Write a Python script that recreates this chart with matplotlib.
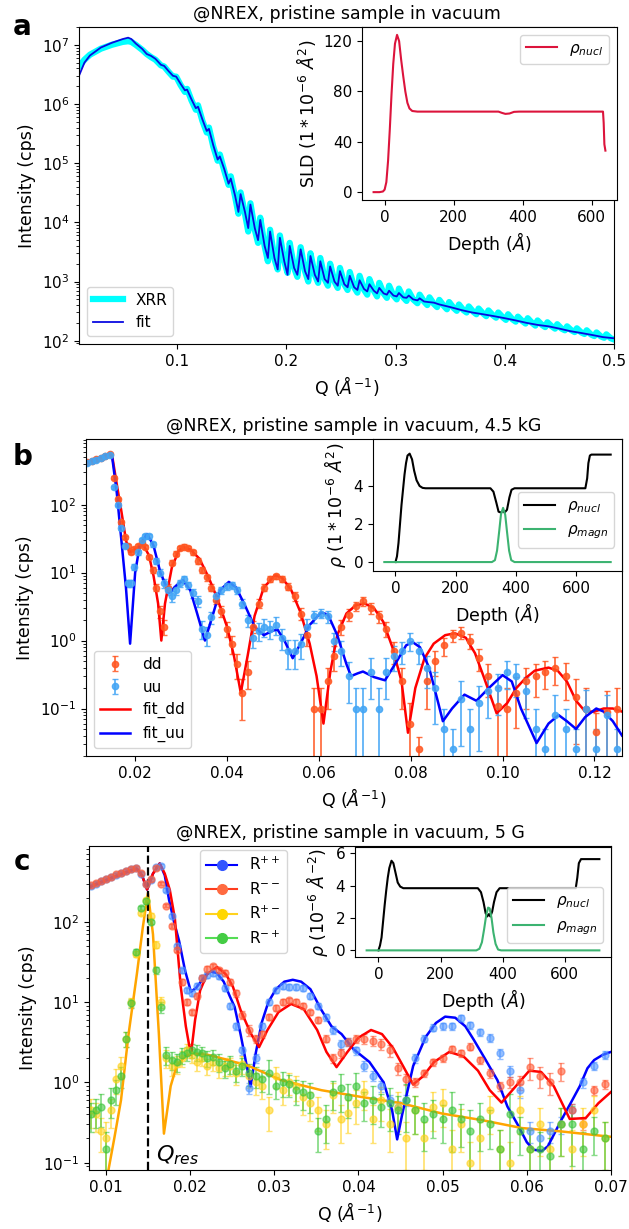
import numpy as np
import matplotlib.pyplot as plt
from matplotlib.lines import Line2D

# ---------------- panel a : XRR ----------------
q_xrr = [0.010, 0.015, 0.020, 0.030, 0.040, 0.050, 0.055, 0.058, 0.062, 0.068,
         0.072, 0.076, 0.080, 0.085, 0.088, 0.092, 0.096, 0.099, 0.103, 0.107,
         0.109, 0.113, 0.117, 0.119, 0.123, 0.127, 0.129, 0.133, 0.137, 0.139,
         0.143, 0.147, 0.149, 0.153, 0.156, 0.158, 0.162, 0.165, 0.167, 0.171,
         0.174, 0.176, 0.180, 0.183, 0.185, 0.189, 0.192, 0.194, 0.198, 0.201,
         0.203, 0.207, 0.210, 0.213, 0.217, 0.220, 0.222, 0.226, 0.229, 0.231,
         0.235, 0.238, 0.240, 0.244, 0.247, 0.249, 0.253, 0.256, 0.258, 0.262,
         0.265, 0.267, 0.271, 0.274, 0.276, 0.280, 0.283, 0.285, 0.289, 0.292,
         0.294, 0.298, 0.301, 0.303, 0.307, 0.310, 0.312, 0.316, 0.320, 0.322,
         0.326, 0.329, 0.331, 0.335, 0.338, 0.340, 0.344, 0.347, 0.349, 0.353,
         0.356, 0.358, 0.362, 0.365, 0.367, 0.371, 0.374, 0.376, 0.380, 0.383,
         0.385, 0.389, 0.392, 0.394, 0.398, 0.401, 0.403, 0.407, 0.410, 0.412,
         0.416, 0.419, 0.421, 0.425, 0.428, 0.430, 0.434, 0.437, 0.439, 0.443,
         0.446, 0.448, 0.452, 0.455, 0.457, 0.461, 0.464, 0.466, 0.470, 0.473,
         0.475, 0.479, 0.482, 0.484, 0.488, 0.491, 0.493, 0.497, 0.500]
i_xrr = [4.3e6, 5.6e6, 6.8e6, 8.6e6, 1.0e7, 1.12e7, 1.15e7, 1.12e7, 1.0e7, 8.2e6,
         7.0e6, 6.2e6, 5.6e6, 4.5e6, 4.3e6, 3.5e6, 2.9e6, 2.9e6, 2.1e6, 1.6e6,
         1.8e6, 1.15e6, 8.0e5, 9.5e5, 5.2e5, 3.3e5, 4.0e5, 1.9e5, 1.1e5, 1.4e5,
         7.5e4, 4.3e4, 6.0e4, 2.7e4, 1.4e4, 3.2e4, 1.4e4, 7.0e3, 2.1e4, 7.5e3,
         4.5e3, 1.2e4, 4.0e3, 2.2e3, 7.5e3, 2.4e3, 1.6e3, 6.0e3, 2.2e3, 1.4e3,
         4.5e3, 1.7e3, 1.2e3, 3.8e3, 1.5e3, 1.0e3, 3.0e3, 1.3e3, 9.5e2, 2.5e3,
         1.1e3, 8.5e2, 2.0e3, 1.0e3, 7.8e2, 1.7e3, 9.0e2, 7.2e2, 1.45e3, 8.0e2,
         6.5e2, 1.25e3, 7.3e2, 6.0e2, 1.1e3, 7.0e2, 5.6e2, 9.5e2, 6.3e2, 5.3e2,
         8.5e2, 5.8e2, 5.0e2, 7.6e2, 5.4e2, 4.7e2, 6.8e2, 5.0e2, 4.3e2, 6.0e2,
         4.6e2, 4.0e2, 5.4e2, 4.2e2, 3.7e2, 4.9e2, 3.9e2, 3.4e2, 4.5e2, 3.6e2,
         3.2e2, 4.1e2, 3.3e2, 3.0e2, 3.8e2, 3.1e2, 2.8e2, 3.5e2, 2.9e2, 2.6e2,
         3.25e2, 2.7e2, 2.45e2, 3.0e2, 2.5e2, 2.25e2, 2.8e2, 2.3e2, 2.1e2, 2.55e2,
         2.15e2, 1.95e2, 2.4e2, 2.0e2, 1.8e2, 2.2e2, 1.85e2, 1.7e2, 2.05e2, 1.75e2,
         1.6e2, 1.9e2, 1.6e2, 1.5e2, 1.75e2, 1.5e2, 1.4e2, 1.62e2, 1.38e2, 1.3e2,
         1.5e2, 1.27e2, 1.2e2, 1.38e2, 1.18e2, 1.12e2, 1.28e2, 1.1e2, 1.05e2]

q_xfit = [0.010, 0.015, 0.020, 0.030, 0.040, 0.050, 0.055, 0.058, 0.062, 0.068,
          0.072, 0.076, 0.080, 0.085, 0.088, 0.092, 0.096, 0.099, 0.103, 0.107,
          0.109, 0.113, 0.117, 0.119, 0.123, 0.127, 0.129, 0.133, 0.137, 0.139,
          0.143, 0.147, 0.149, 0.153, 0.156, 0.158, 0.162, 0.165, 0.167, 0.171,
          0.174, 0.176, 0.180, 0.183, 0.185, 0.189, 0.192, 0.194, 0.198, 0.201,
          0.203, 0.207, 0.210, 0.213, 0.217, 0.220, 0.222, 0.226, 0.229, 0.231,
          0.235, 0.238, 0.240, 0.244, 0.247, 0.249, 0.253, 0.256, 0.258, 0.262,
          0.265, 0.267, 0.271, 0.274, 0.276, 0.280, 0.283, 0.285, 0.289, 0.292,
          0.294, 0.298, 0.301, 0.303, 0.307, 0.310, 0.312, 0.316, 0.320, 0.322,
          0.326, 0.330, 0.335, 0.340, 0.345, 0.350, 0.355, 0.360, 0.370, 0.380,
          0.390, 0.400, 0.410, 0.420, 0.430, 0.440, 0.450, 0.460, 0.470, 0.480,
          0.490, 0.500]
i_xfit = [3.0e6, 5.0e6, 6.6e6, 9.0e6, 1.08e7, 1.25e7, 1.32e7, 1.25e7, 1.05e7, 8.5e6,
          7.0e6, 6.5e6, 5.8e6, 4.6e6, 4.4e6, 3.6e6, 3.0e6, 2.9e6, 2.2e6, 1.7e6,
          1.75e6, 1.2e6, 8.5e5, 9.0e5, 5.5e5, 3.5e5, 3.8e5, 2.0e5, 1.15e5, 1.3e5,
          8.0e4, 4.5e4, 5.5e4, 2.8e4, 1.5e4, 3.0e4, 1.5e4, 8.0e3, 2.0e4, 8.0e3,
          5.0e3, 1.1e4, 4.0e3, 2.5e3, 7.0e3, 2.5e3, 1.6e3, 5.5e3, 2.2e3, 1.3e3,
          4.0e3, 1.7e3, 1.3e3, 3.5e3, 1.5e3, 1.1e3, 2.7e3, 1.3e3, 1.0e3, 2.2e3,
          1.1e3, 9.5e2, 1.8e3, 1.0e3, 8.5e2, 1.5e3, 9.0e2, 8.0e2, 1.25e3, 8.0e2,
          7.2e2, 1.05e3, 7.5e2, 6.8e2, 9.0e2, 7.0e2, 6.3e2, 7.8e2, 6.3e2, 6.0e2,
          7.0e2, 5.8e2, 5.6e2, 6.4e2, 5.4e2, 5.3e2, 5.8e2, 5.0e2, 4.8e2, 5.2e2,
          4.6e2, 4.5e2, 4.4e2, 4.1e2, 3.9e2, 3.7e2, 3.5e2, 3.3e2, 3.0e2, 2.8e2,
          2.6e2, 2.4e2, 2.2e2, 2.0e2, 1.85e2, 1.75e2, 1.6e2, 1.45e2, 1.35e2, 1.25e2,
          1.15e2, 1.1e2]

depth_a = [-32, -15, -5, 0, 5, 10, 15, 20, 25, 30, 36, 42, 48, 54, 60, 66, 72, 80,
           95, 330, 340, 350, 362, 375, 390, 633, 635, 637, 640]
sld_a = [0, 0, 0.5, 2, 8, 25, 50, 78, 102, 118, 125, 120, 105, 92, 80, 71, 66.5, 64.5,
         64, 64, 63, 62.2, 62.5, 63.8, 64, 64, 55, 38, 33]

# ---------------- panel b : 4.5 kG ----------------
q_b = [0.0095, 0.0105, 0.0115, 0.0125, 0.0135, 0.0145,
       0.0155, 0.0163, 0.0170, 0.0177, 0.0184, 0.0191, 0.0198, 0.0206, 0.0214, 0.0222,
       0.0230, 0.0238, 0.0246, 0.0254, 0.0262, 0.0271, 0.0280, 0.0289, 0.0298, 0.0307,
       0.0316, 0.0326, 0.0336, 0.0346, 0.0356, 0.0366, 0.0377, 0.0388, 0.0399, 0.0410,
       0.0421, 0.0433, 0.0445, 0.0457, 0.0469, 0.0481, 0.0494, 0.0507, 0.0520, 0.0533,
       0.0547, 0.0561, 0.0575, 0.0589, 0.0604, 0.0619, 0.0634, 0.0649, 0.0665, 0.0681,
       0.0697, 0.0713, 0.0730, 0.0747, 0.0764, 0.0781, 0.0799, 0.0817, 0.0835, 0.0853,
       0.0872, 0.0891, 0.0910, 0.0929, 0.0949, 0.0969, 0.0989, 0.1009, 0.1030, 0.1051,
       0.1072, 0.1093, 0.1115, 0.1137, 0.1159, 0.1181, 0.1204, 0.1227, 0.1250]
dd = [420, 440, 465, 490, 520, 550,
      250, 120, 55, 33, 25, 20, 22, 25, 27, 24,
      17, 11, 6, 2.7, 1.6, 6, 14, 19, 23, 24,
      23, 20, 15, 11, 8.5, 6, 4, 2.7, 1.5, 0.9,
      0.45, 0.17, 0.35, 1.6, 3.5, 6, 8, 8.8, 8, 6.2,
      4.5, 2.5, 1.2, 0.1, 0.1, 0.25, 0.6, 1.6, 2.4, 3.2,
      3.8, 3.0, 2.3, 1.5, 0.7, 0.25, 0.06, 0.025, 0.25, 0.5,
      0.85, 1.2, 1.3, 1.0, 0.55, 0.3, 0.11, 0.1, 0.17, 0.25,
      0.3, 0.35, 0.4, 0.3, 0.15, 0.1, 0.045, 0.09, 0.1]
dd_rel = [0.04, 0.04, 0.04, 0.04, 0.04, 0.04,
          0.05, 0.05, 0.06, 0.06, 0.07, 0.07, 0.07, 0.07, 0.07, 0.07,
          0.08, 0.1, 0.12, 0.2, 0.25, 0.12, 0.08, 0.08, 0.08, 0.08,
          0.08, 0.08, 0.1, 0.1, 0.1, 0.12, 0.15, 0.18, 0.25, 0.3,
          0.4, 0.6, 0.45, 0.2, 0.15, 0.12, 0.1, 0.1, 0.1, 0.12,
          0.15, 0.2, 0.3, 1.0, 1.0, 0.6, 0.4, 0.25, 0.2, 0.15,
          0.15, 0.18, 0.2, 0.25, 0.35, 0.6, 1.0, 0.5, 0.6, 0.4,
          0.3, 0.2, 0.2, 0.25, 0.35, 0.5, 0.9, 1.0, 0.7, 0.6,
          0.5, 0.45, 0.45, 0.55, 0.8, 1.0, 0.9, 1.0, 1.0]
uu = [410, 440, 460, 490, 520, 540,
      180, 100, 45, 25, 7, 7, 12, 20, 30, 35,
      34, 26, 15, 10, 7, 5.5, 4.5, 5.5, 7, 8,
      6.5, 5, 3.8, 1.5, 1.2, 2.2, 4.5, 5.5, 6.3, 6.5,
      5.5, 3.5, 2.0, 1.1, 1.4, 1.6, 1.5, 1.7, 1.1, 0.7,
      0.7, 0.9, 1.6, 2.3, 2.5, 2.3, 1.0, 0.7, 0.3, 0.1,
      0.1, 0.35, 0.1, 0.35, 0.6, 0.7, 1.0, 0.7, 0.4, 0.2,
      0.05, 0.025, 0.14, 0.05, 0.12, 0.18, 0.2, 0.35, 0.3, 0.18,
      0.05, 0.025, 0.08, 0.05, 0.025, 0.1, 0.025, 0.08, 0.025]
uu_rel = [0.04, 0.04, 0.04, 0.04, 0.04, 0.04,
          0.05, 0.05, 0.06, 0.08, 0.12, 0.12, 0.1, 0.08, 0.07, 0.07,
          0.07, 0.08, 0.1, 0.12, 0.15, 0.15, 0.18, 0.15, 0.12, 0.12,
          0.12, 0.15, 0.18, 0.3, 0.3, 0.2, 0.15, 0.12, 0.12, 0.12,
          0.12, 0.15, 0.2, 0.3, 0.3, 0.3, 0.3, 0.3, 0.35, 0.45,
          0.45, 0.4, 0.3, 0.2, 0.15, 0.2, 0.3, 0.4, 0.6, 1.0,
          1.0, 0.6, 1.0, 0.6, 0.4, 0.35, 0.3, 0.35, 0.5, 0.7,
          1.0, 1.0, 0.8, 1.0, 0.8, 0.6, 0.6, 0.45, 0.5, 0.6,
          1.0, 1.0, 1.0, 1.0, 1.0, 0.9, 1.0, 1.0, 1.0]

q_fdd = [0.0093, 0.011, 0.0125, 0.0143, 0.015, 0.016, 0.017, 0.018, 0.0187, 0.020,
         0.0217, 0.023, 0.024, 0.025, 0.0257, 0.0265, 0.028, 0.0295, 0.0305, 0.032,
         0.034, 0.036, 0.038, 0.040, 0.0415, 0.043, 0.0445, 0.046, 0.048, 0.0504,
         0.052, 0.054, 0.056, 0.058, 0.0595, 0.061, 0.0625, 0.064, 0.066, 0.068,
         0.070, 0.072, 0.074, 0.076, 0.078, 0.0794, 0.081, 0.083, 0.085, 0.0875,
         0.0896, 0.092, 0.094, 0.096, 0.0987, 0.101, 0.103, 0.105, 0.107, 0.110,
         0.112, 0.114, 0.116, 0.118, 0.120, 0.122, 0.124, 0.126]
i_fdd = [415, 450, 490, 560, 520, 200, 80, 30, 20, 22,
         26, 18, 9, 3.5, 1.0, 3.5, 12, 21, 23.5, 22,
         16, 8.5, 4.0, 1.6, 0.6, 0.17, 0.6, 2.3, 6, 9.1,
         8.4, 5.5, 2.6, 0.9, 0.3, 0.06, 0.35, 1.2, 2.5, 3.3,
         3.5, 3.0, 1.9, 0.8, 0.25, 0.044, 0.2, 0.55, 0.9, 1.2,
         1.28, 1.1, 0.65, 0.28, 0.085, 0.12, 0.2, 0.28, 0.36, 0.40,
         0.36, 0.25, 0.13, 0.09, 0.09, 0.1, 0.1, 0.09]
q_fuu = [0.0093, 0.011, 0.0125, 0.0143, 0.015, 0.016, 0.017, 0.018, 0.0189, 0.020,
         0.021, 0.0226, 0.024, 0.0255, 0.0274, 0.029, 0.0304, 0.032, 0.0335, 0.0352,
         0.037, 0.0385, 0.0404, 0.042, 0.044, 0.046, 0.048, 0.050, 0.051, 0.0525,
         0.0543, 0.056, 0.058, 0.0605, 0.062, 0.064, 0.066, 0.067, 0.0685, 0.0696,
         0.072, 0.0744, 0.077, 0.079, 0.0804, 0.082, 0.084, 0.086, 0.087, 0.089,
         0.0917, 0.0943, 0.097, 0.100, 0.102, 0.104, 0.1074, 0.110, 0.1122, 0.114,
         0.116, 0.118, 0.1204, 0.122, 0.124, 0.126]
i_fuu = [415, 450, 490, 560, 500, 150, 30, 6, 0.9, 10,
         25, 37, 25, 10, 5, 6.5, 7.7, 5.5, 2.5, 1.0,
         2.5, 5.5, 7.3, 6, 3.2, 1.6, 1.2, 1.4, 1.45, 1.0,
         0.55, 0.9, 1.7, 2.6, 2.4, 1.2, 0.45, 0.3, 0.33, 0.35,
         0.29, 0.26, 0.5, 0.85, 0.95, 0.8, 0.4, 0.12, 0.065, 0.1,
         0.16, 0.13, 0.2, 0.31, 0.25, 0.1, 0.031, 0.06, 0.08, 0.065,
         0.05, 0.075, 0.1, 0.09, 0.065, 0.04]

depth_b = [0, 5, 10, 15, 20, 25, 30, 35, 40, 47, 55, 62, 70, 80, 90, 100, 315, 325,
           335, 342, 350, 357, 362, 370, 378, 385, 395, 630, 636, 640, 645, 650, 714]
nucl_b = [0, 0.3, 1.0, 2.0, 3.0, 3.8, 4.6, 5.2, 5.6, 5.7, 5.4, 4.8, 4.3, 4.0, 3.9, 3.88,
          3.88, 3.7, 3.1, 2.65, 2.6, 2.7, 2.6, 2.75, 3.4, 3.8, 3.88, 3.88, 4.4, 5.2,
          5.6, 5.65, 5.65]
depth_bm = [-37, 320, 330, 337, 344, 350, 357, 364, 370, 377, 384, 395, 714]
magn_b = [0, 0, 0.1, 0.6, 1.6, 2.5, 2.85, 2.5, 1.6, 0.6, 0.1, 0, 0]

# ---------------- panel c : 5 G ----------------
q_c = [0.0082, 0.0088, 0.0094, 0.0100, 0.0106, 0.0112, 0.0118, 0.0124, 0.0130, 0.0136,
       0.0142, 0.0148, 0.0154, 0.0160, 0.0166, 0.0172, 0.0178, 0.0184, 0.0190, 0.0196,
       0.0202, 0.0208, 0.0214, 0.0220, 0.0227, 0.0234, 0.0241, 0.0248, 0.0255, 0.0262,
       0.0270, 0.0278, 0.0286, 0.0294, 0.0302, 0.0310, 0.0318, 0.0326, 0.0334, 0.0343,
       0.0352, 0.0361, 0.0370, 0.0379, 0.0388, 0.0397, 0.0407, 0.0417, 0.0427, 0.0437,
       0.0447, 0.0457, 0.0467, 0.0478, 0.0489, 0.0500, 0.0511, 0.0522, 0.0533, 0.0544,
       0.0556, 0.0568, 0.0580, 0.0592, 0.0604, 0.0616, 0.0628, 0.0641, 0.0654, 0.0667,
       0.0680, 0.0693]
r_pp = [280, 300, 320, 340, 360, 385, 405, 430, 455, 470,
        400, 300, 330, 480, 500, 250, 120, 50, 25, 14,
        13, 16, 20, 22, 23, 21, 15, 9, 5, 2.5,
        0.85, 2.0, 5, 10, 14, 16, 15.5, 15.5, 15, 12,
        9, 6.5, 4.5, 3.0, 3.2, 2.5, 1.6, 1.2, 0.9, 0.6,
        0.5, 0.6, 2.0, 3.5, 4.8, 5.0, 5.0, 6.3, 5.2, 4.2,
        3.6, 2.3, 1.4, 0.8, 0.25, 0.2, 0.25, 0.3, 0.45, 1.0,
        1.6, 2.2]
r_mm = [285, 305, 325, 345, 365, 390, 410, 435, 455, 470,
        410, 300, 340, 470, 300, 160, 90, 45, 18, 10,
        7.5, 12, 20, 26, 28, 25, 23, 18, 13, 7,
        4.5, 3.5, 4, 6.5, 8.5, 10, 10.5, 10, 9, 7.5,
        6, 3.5, 2.0, 2.3, 3.2, 3.5, 3.5, 3.3, 3.0, 2.5,
        1.5, 1.1, 1.0, 1.3, 1.8, 2.0, 2.6, 2.3, 2.8, 1.9,
        1.3, 0.9, 1.0, 1.0, 1.55, 1.2, 1.0, 1.4, 0.45, 0.3,
        0.8, 0.95]
nsf_rel = [0.05, 0.05, 0.05, 0.05, 0.05, 0.05, 0.05, 0.05, 0.05, 0.05,
           0.05, 0.05, 0.05, 0.05, 0.05, 0.05, 0.06, 0.07, 0.08, 0.08,
           0.08, 0.08, 0.08, 0.08, 0.08, 0.08, 0.08, 0.09, 0.1, 0.12,
           0.15, 0.12, 0.1, 0.08, 0.08, 0.08, 0.08, 0.08, 0.08, 0.08,
           0.09, 0.1, 0.12, 0.12, 0.12, 0.12, 0.14, 0.14, 0.15, 0.16,
           0.18, 0.16, 0.12, 0.1, 0.1, 0.1, 0.1, 0.1, 0.1, 0.1,
           0.12, 0.14, 0.16, 0.2, 0.3, 0.3, 0.3, 0.25, 0.2, 0.15,
           0.12, 0.12]
r_pm = [0.45, 0.4, 0.25, 0.2, 0.45, 1.1, 1.6, 3.5, 10, 40,
        130, 190, 120, 52, 10, 2.0, 1.6, 1.7, 2.0, 2.5,
        2.2, 1.8, 2.0, 1.6, 1.8, 1.5, 1.6, 1.6, 1.3, 1.7,
        1.2, 1.0, 0.9, 0.45, 1.2, 0.8, 1.0, 0.9, 0.65, 0.55,
        0.45, 0.3, 0.7, 0.35, 0.42, 0.55, 0.75, 0.35, 0.6, 0.3,
        0.5, 0.2, 0.45, 0.2, 0.5, 0.55, 0.15, 0.3, 0.1, 0.2,
        0.45, 0.15, 0.1, 0.45, 0.15, 0.3, 0.15, 0.3, 0.15, 0.3,
        0.45, 0.2]
r_mp = [0.4, 0.45, 0.5, 0.15, 0.6, 0.8, 1.2, 3.5, 9.7, 42,
        150, 180, 100, 25, 8.7, 2.2, 1.9, 1.8, 2.2, 2.3,
        2.5, 2.4, 2.3, 2.0, 2.1, 1.8, 1.5, 1.7, 1.4, 1.6,
        1.3, 1.2, 1.1, 1.3, 0.9, 1.0, 0.95, 0.8, 0.75, 0.7,
        0.25, 0.35, 0.75, 0.85, 0.65, 0.9, 0.55, 0.6, 0.5, 0.55,
        0.45, 0.6, 0.45, 0.35, 0.4, 0.35, 0.45, 0.35, 0.25, 0.35,
        0.3, 0.15, 0.4, 0.25, 0.15, 0.15, 0.12, 0.3, 0.3, 0.15,
        0.25, 0.2]
sf_rel = [0.4, 0.4, 0.45, 0.6, 0.4, 0.35, 0.3, 0.2, 0.12, 0.08,
          0.06, 0.06, 0.07, 0.1, 0.15, 0.25, 0.25, 0.25, 0.22, 0.2,
          0.2, 0.22, 0.2, 0.22, 0.22, 0.25, 0.25, 0.25, 0.28, 0.25,
          0.3, 0.3, 0.3, 0.45, 0.3, 0.35, 0.3, 0.35, 0.4, 0.4,
          0.45, 0.5, 0.4, 0.5, 0.45, 0.45, 0.4, 0.5, 0.45, 0.55,
          0.5, 0.6, 0.5, 0.6, 0.5, 0.5, 0.7, 0.55, 0.8, 0.6,
          0.5, 0.7, 0.8, 0.5, 0.7, 0.6, 0.7, 0.6, 0.7, 0.6,
          0.5, 0.6]

q_fpp = [0.008, 0.009, 0.010, 0.011, 0.012, 0.013, 0.0137, 0.0143, 0.0149, 0.0156,
         0.0164, 0.0170, 0.0175, 0.0181, 0.0187, 0.0194, 0.0201, 0.0207, 0.0213, 0.0219,
         0.0225, 0.0232, 0.0240, 0.0247, 0.0253, 0.0260, 0.0266, 0.0272, 0.0278, 0.0285,
         0.0293, 0.0302, 0.0312, 0.0322, 0.0332, 0.0343, 0.0356, 0.0368, 0.0380, 0.0394,
         0.0413, 0.0430, 0.0440, 0.0446, 0.0452, 0.0465, 0.0480, 0.0492, 0.0503, 0.0515,
         0.0527, 0.0537, 0.0550, 0.0565, 0.0577, 0.0589, 0.0600, 0.0608, 0.0618, 0.0625,
         0.0641, 0.0652, 0.0663, 0.0672, 0.0680, 0.0690, 0.0700]
i_fpp = [270, 300, 330, 365, 400, 440, 460, 380, 253, 400,
         535, 380, 190, 100, 58, 25, 13.5, 15, 18, 22,
         24, 23, 18, 12, 8.7, 4, 1.9, 0.89, 2.3, 5.5,
         10, 14.5, 18, 19, 18, 14.5, 8, 5, 4.0, 2.6,
         1.8, 1.0, 0.45, 0.195, 0.4, 1.6, 3.7, 5.5, 6.6, 6.4,
         5.0, 3.4, 2.0, 1.07, 0.5, 0.3, 0.18, 0.145, 0.14, 0.16,
         0.34, 0.55, 0.9, 1.5, 1.9, 2.2, 2.4]
q_fmm = [0.008, 0.009, 0.010, 0.011, 0.012, 0.013, 0.0137, 0.0143, 0.0149, 0.0156,
         0.0164, 0.0170, 0.0176, 0.0182, 0.0189, 0.0195, 0.0201, 0.0206, 0.0212, 0.0220,
         0.0232, 0.0243, 0.0251, 0.0260, 0.0272, 0.0282, 0.0292, 0.0305, 0.0320, 0.0335,
         0.0351, 0.0362, 0.0374, 0.0387, 0.0400, 0.0415, 0.0428, 0.0441, 0.0453, 0.0465,
         0.0477, 0.0490, 0.0508, 0.0525, 0.0542, 0.0556, 0.0570, 0.0585, 0.0603, 0.0617,
         0.0632, 0.0651, 0.0670, 0.0685, 0.0700]
i_fmm = [270, 300, 330, 365, 400, 440, 460, 380, 253, 400,
         535, 400, 250, 110, 15.5, 5, 2.2, 6, 14, 22,
         27.5, 22, 15.5, 8, 4.1, 2.75, 4.5, 7.5, 9.5, 8.2,
         4.5, 2.4, 1.55, 2.4, 3.6, 4.5, 4.0, 2.7, 1.6, 0.94,
         1.2, 1.8, 2.4, 2.1, 1.4, 0.8, 0.56, 0.85, 1.4, 1.35,
         0.9, 0.35, 0.36, 0.55, 0.76]
q_fsf = [0.0100, 0.0103, 0.0110, 0.0118, 0.0127, 0.0137, 0.0144, 0.0150, 0.0156, 0.0163,
         0.0169, 0.0177, 0.0184, 0.0194, 0.0203, 0.0222, 0.0241, 0.0270, 0.0308, 0.0356,
         0.0403, 0.0451, 0.0499, 0.0546, 0.0594, 0.0641, 0.0700]
i_fsf = [0.05, 0.08, 0.2, 0.6, 4, 23, 87, 230, 70, 4,
         0.23, 0.9, 1.6, 2.1, 2.3, 2.2, 1.95, 1.6, 1.07, 0.8,
         0.66, 0.55, 0.41, 0.34, 0.27, 0.245, 0.21]
q_res = 0.015

depth_c = [0, 5, 10, 15, 20, 25, 30, 35, 42, 48, 55, 62, 70, 80, 320, 330, 338, 345,
           350, 356, 360, 366, 372, 380, 390, 635, 640, 645, 652, 711]
nucl_c = [0, 0.3, 0.8, 1.8, 2.8, 3.7, 4.5, 5.1, 5.55, 5.4, 4.8, 4.2, 3.95, 3.85, 3.85,
          3.6, 3.0, 2.3, 2.1, 2.25, 2.1, 2.4, 3.0, 3.6, 3.85, 3.85, 4.5, 5.4, 5.65, 5.65]
depth_cm = [-38, 315, 325, 333, 340, 347, 353, 358, 364, 370, 377, 385, 395, 711]
magn_c = [0, 0, 0.1, 0.5, 1.3, 2.2, 2.65, 2.6, 2.0, 1.1, 0.4, 0.05, 0, 0]

# ---------------- figure ----------------
W, H = 629, 1229
fig = plt.figure(figsize=(W / 100, H / 100), dpi=100)


def box(l, r, t, b):
    return [l / W, 1 - b / H, (r - l) / W, (b - t) / H]


qlab = r"Q ($\AA^{-1}$)"
tfs, lfs, kfs = 12.5, 12.5, 11

# panel a
ax = fig.add_axes(box(79, 614, 27, 344))
ax.plot(q_xrr, i_xrr, color="#00ffff", lw=4.5, label="XRR")
ax.plot(q_xfit, i_xfit, color="#0a0ae0", lw=1.3, label="fit")
ax.set_yscale("log")
ax.set_xlim(0.01, 0.5)
ax.set_ylim(88, 2e7)
ax.set_xticks([0.1, 0.2, 0.3, 0.4, 0.5])
ax.set_xlabel(qlab, fontsize=lfs)
ax.set_ylabel("Intensity (cps)", fontsize=lfs)
ax.set_title("@NREX, pristine sample in vacuum", fontsize=tfs)
ax.tick_params(labelsize=kfs)
ax.legend(loc="lower left", fontsize=11)

ins = fig.add_axes(box(362, 617, 27, 200))
ins.plot(depth_a, sld_a, color="crimson", lw=1.5, label=r"$\rho_{nucl}$")
ins.set_yticks([0, 40, 80, 120])
ins.set_xticks([0, 200, 400, 600])
ins.set_xlabel(r"Depth ($\AA$)", fontsize=lfs)
ins.set_ylabel(r"SLD $(1*10^{-6}$ $\AA^2)$", fontsize=lfs)
ins.tick_params(labelsize=kfs)
ins.legend(loc="upper right", fontsize=11)

# panel b
ax = fig.add_axes(box(86, 622, 439, 756))
e1 = ax.errorbar(q_b, dd, yerr=np.array(dd) * np.array(dd_rel), fmt="o", color="#ff5722",
                 ms=4.5, capsize=2.5, elinewidth=1.3, alpha=0.85)
e2 = ax.errorbar(q_b, uu, yerr=np.array(uu) * np.array(uu_rel), fmt="o", color="#42a5f5",
                 ms=4.5, capsize=2.5, elinewidth=1.3, alpha=0.85)
l1, = ax.plot(q_fdd, i_fdd, color="red", lw=1.8)
l2, = ax.plot(q_fuu, i_fuu, color="blue", lw=1.8)
ax.set_yscale("log")
ax.set_xlim(0.0093, 0.126)
ax.set_ylim(0.02, 925)
ax.set_xlabel(qlab, fontsize=lfs)
ax.set_ylabel("Intensity (cps)", fontsize=lfs)
ax.set_title("@NREX, pristine sample in vacuum, 4.5 kG", fontsize=tfs)
ax.tick_params(labelsize=kfs)
ax.legend([e1, e2, l1, l2], ["dd", "uu", "fit_dd", "fit_uu"], loc="lower left", fontsize=11)

ins = fig.add_axes(box(373, 622, 439, 571))
ins.plot(depth_b, nucl_b, color="black", lw=1.5, label=r"$\rho_{nucl}$")
ins.plot(depth_bm, magn_b, color="mediumseagreen", lw=1.5, label=r"$\rho_{magn}$")
ins.set_ylim(-0.47, 6.47)
ins.set_yticks([0, 2, 4])
ins.set_xticks([0, 200, 400, 600])
ins.set_xlabel(r"Depth ($\AA$)", fontsize=lfs)
ins.set_ylabel(r"$\rho$ $(1*10^{-6}$ $\AA^2)$", fontsize=lfs)
ins.tick_params(labelsize=kfs)
ins.legend(loc="lower right", bbox_to_anchor=(1.0, 0.12), fontsize=11)

# panel c
ax = fig.add_axes(box(89, 611, 846, 1170))
series = [(r_pp, nsf_rel, "#4d94ff"), (r_mm, nsf_rel, "#ff5a36"),
          (r_pm, sf_rel, "#ffd11a"), (r_mp, sf_rel, "#3cc63c")]
for vals, rel, c in series:
    ax.errorbar(q_c, vals, yerr=np.array(vals) * np.array(rel), fmt="o", color=c,
                ms=5, capsize=2.5, elinewidth=1.3, alpha=0.6)
ax.plot(q_fpp, i_fpp, color="blue", lw=1.8)
ax.plot(q_fmm, i_fmm, color="red", lw=1.8)
ax.plot(q_fsf, i_fsf, color="orange", lw=1.8)
ax.axvline(q_res, color="black", ls="--", lw=1.6)
ax.text(q_res + 0.0009, 0.105, r"$Q_{res}$", fontsize=16)
ax.set_yscale("log")
ax.set_xlim(0.008, 0.07)
ax.set_ylim(0.081, 883)
ax.set_xlabel(qlab, fontsize=lfs)
ax.set_ylabel("Intensity (cps)", fontsize=lfs)
ax.set_title("@NREX, pristine sample in vacuum, 5 G", fontsize=tfs)
ax.tick_params(labelsize=kfs)
handles = [Line2D([], [], color="blue", marker="o", mfc="#3355ff", mec="#3355ff", ms=7),
           Line2D([], [], color="#ff3c1e", marker="o", mfc="#ff6a40", mec="#ff6a40", ms=7),
           Line2D([], [], color="#ffd21f", marker="o", mfc="#ffd700", mec="#ffd700", ms=7),
           Line2D([], [], color="#55dd55", marker="o", mfc="#44cc44", mec="#44cc44", ms=7)]
ax.legend(handles, [r"R$^{++}$", r"R$^{--}$", r"R$^{+-}$", r"R$^{-+}$"],
          loc="upper left", bbox_to_anchor=(0.213, 0.988), borderaxespad=0, fontsize=11)

ins = fig.add_axes(box(355, 611, 847, 957))
ins.plot(depth_c, nucl_c, color="black", lw=1.5, label=r"$\rho_{nucl}$")
ins.plot(depth_cm, magn_c, color="mediumseagreen", lw=1.5, label=r"$\rho_{magn}$")
ins.set_ylim(-0.41, 6.4)
ins.set_yticks([0, 2, 4, 6])
ins.set_xticks([0, 200, 400, 600])
ins.set_xlabel(r"Depth ($\AA$)", fontsize=lfs)
ins.set_ylabel(r"$\rho$ $(10^{-6}$ $\AA^{-2})$", fontsize=lfs)
ins.tick_params(labelsize=kfs)
ins.legend(loc="lower right", bbox_to_anchor=(1.0, 0.06), fontsize=11)

for lab, x, y in [("a", 22, 27), ("b", 23, 457), ("c", 22, 862)]:
    fig.text(x / W, 1 - y / H, lab, fontsize=20, fontweight="bold", ha="center", va="center")

fig.savefig("out.png", dpi=100)
